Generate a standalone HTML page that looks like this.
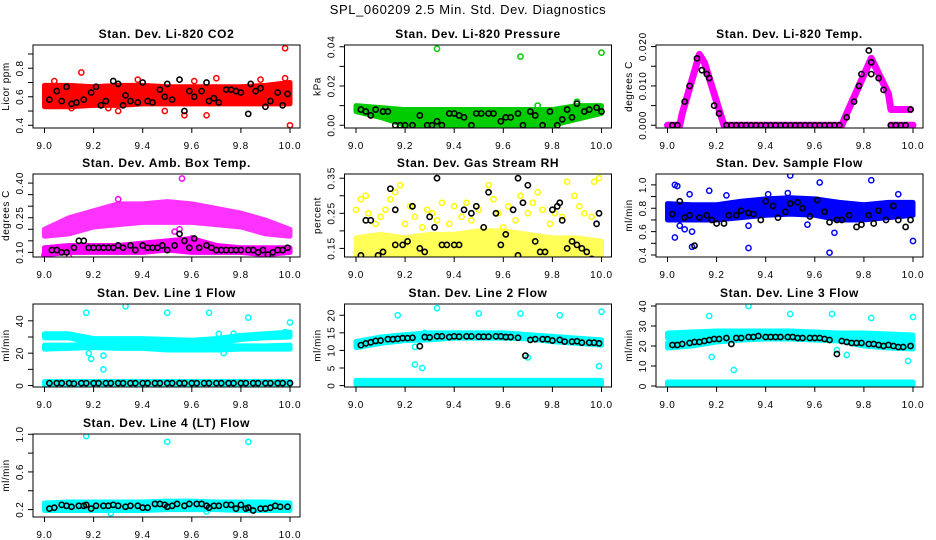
<!DOCTYPE html>
<html><head><meta charset="utf-8"><style>
html,body{margin:0;padding:0;background:#fff;}
svg{display:block;font-family:"Liberation Sans",Arial,sans-serif;}
</style></head><body>
<svg id="chart" width="936" height="540" viewBox="0 0 936 540" xmlns="http://www.w3.org/2000/svg">
<rect width="936" height="540" fill="#fff"/>
<text x="468" y="14" text-anchor="middle" font-size="13" letter-spacing="0.6">SPL_060209  2.5 Min. Std. Dev. Diagnostics</text>
</svg>
<script>
// ---- data ----
const xTicks=[9.0,9.2,9.4,9.6,9.8,10.0];
const xTickLabels=["9.0","9.2","9.4","9.6","9.8","10.0"];
const bandX=[9.0,9.1,9.2,9.3,9.4,9.5,9.6,9.7,9.8,9.9,10.0];

// Panel 1 CO2
const co2Lo=[0.53,0.53,0.54,0.54,0.55,0.55,0.55,0.55,0.55,0.55,0.55];
const co2Hi=[0.68,0.68,0.67,0.68,0.68,0.67,0.67,0.67,0.67,0.68,0.70];
const co2OutX=[9.04,9.15,9.38,9.30,9.57,9.66,9.70,9.98,9.98,10.0,9.11,9.49,9.88,9.61,9.03,9.26];
const co2OutY=[0.71,0.77,0.72,0.50,0.47,0.47,0.73,0.73,0.94,0.40,0.52,0.50,0.72,0.71,0.65,0.52];
const co2BlkX=[9.02,9.05,9.07,9.09,9.11,9.13,9.16,9.19,9.21,9.23,9.25,9.28,9.30,9.32,9.33,9.35,9.38,9.40,9.42,9.44,9.47,9.49,9.50,9.52,9.55,9.57,9.59,9.61,9.64,9.66,9.67,9.69,9.71,9.74,9.76,9.78,9.80,9.83,9.84,9.86,9.88,9.90,9.92,9.95,9.97,9.99];
const co2BlkY=[0.58,0.64,0.57,0.67,0.55,0.56,0.58,0.63,0.67,0.54,0.57,0.71,0.69,0.54,0.61,0.57,0.56,0.70,0.57,0.56,0.65,0.60,0.69,0.58,0.72,0.50,0.64,0.60,0.64,0.70,0.57,0.59,0.56,0.65,0.65,0.64,0.63,0.48,0.69,0.64,0.66,0.53,0.57,0.63,0.54,0.62];

// Panel 2 Pressure
const prLo=[0.007,0.004,0.0,0.0,0.0,0.0,0.0,0.0,0.0,0.003,0.006];
const prHi=[0.010,0.009,0.008,0.008,0.008,0.008,0.008,0.008,0.008,0.010,0.010];
const prOutX=[9.33,9.67,10.0,9.74,9.90];
const prOutY=[0.039,0.035,0.037,0.010,0.012];
const prBlkX=[9.02,9.04,9.06,9.08,9.11,9.13,9.16,9.18,9.20,9.23,9.26,9.29,9.31,9.33,9.35,9.38,9.40,9.42,9.44,9.47,9.49,9.51,9.54,9.56,9.59,9.61,9.63,9.66,9.68,9.71,9.73,9.76,9.79,9.82,9.84,9.86,9.88,9.90,9.93,9.95,9.98,10.0];
const prBlkY=[0.008,0.007,0.005,0.008,0.007,0.007,0.0,0.0,0.0,0.0,0.005,0.0,0.0,0.002,0.0,0.006,0.006,0.005,0.004,0.0,0.006,0.006,0.006,0.006,0.002,0.004,0.004,0.006,0.0,0.007,0.005,0.0,0.007,0.0,0.003,0.008,0.004,0.011,0.007,0.008,0.009,0.007];

// Panel 3 Li-820 Temp
const tmpTraceX=[9.0,9.05,9.06,9.13,9.15,9.22,9.23,9.71,9.73,9.83,9.90,9.91,9.99];
const tmpTraceY=[0.0,0.0,0.003,0.018,0.016,0.002,0.0,0.0,0.003,0.017,0.008,0.004,0.004];
const tmpTrace2X=[9.91,10.0];
const tmpTrace2Y=[0.0,0.0];
const tmpBlkX=[9.02,9.04,9.07,9.09,9.12,9.14,9.16,9.17,9.19,9.21,9.24,9.26,9.28,9.30,9.32,9.34,9.36,9.38,9.40,9.42,9.44,9.46,9.48,9.50,9.52,9.54,9.56,9.58,9.60,9.62,9.64,9.66,9.68,9.70,9.73,9.76,9.78,9.79,9.82,9.83,9.83,9.86,9.88,9.91,9.93,9.95,9.97,9.99];
const tmpBlkY=[0,0,0.006,0.010,0.017,0.014,0.013,0.012,0.005,0.003,0,0,0,0,0,0,0,0,0,0,0,0,0,0,0,0,0,0,0,0,0,0,0,0,0.002,0.006,0.010,0.013,0.019,0.016,0.013,0.012,0.009,0,0,0,0,0.004];

// Panel 4 Amb box temp
const ambLo1=[0.09,0.10,0.10,0.10,0.10,0.11,0.10,0.10,0.10,0.09,0.10];
const ambHi1=[0.12,0.13,0.13,0.13,0.14,0.15,0.16,0.13,0.12,0.12,0.12];
const ambLo2=[0.17,0.18,0.21,0.22,0.23,0.23,0.23,0.22,0.21,0.18,0.17];
const ambHi2=[0.20,0.25,0.28,0.31,0.31,0.32,0.31,0.29,0.27,0.24,0.20];
const ambOutX=[9.56,9.53,9.55,9.30,9.60,9.10,9.00,9.02];
const ambOutY=[0.42,0.19,0.20,0.33,0.16,0.08,0.09,0.08];
const ambBlkX=[9.03,9.05,9.07,9.09,9.12,9.14,9.16,9.18,9.20,9.22,9.24,9.26,9.28,9.30,9.32,9.35,9.37,9.40,9.42,9.44,9.46,9.48,9.50,9.53,9.55,9.57,9.59,9.61,9.63,9.66,9.68,9.70,9.72,9.74,9.76,9.78,9.80,9.83,9.85,9.87,9.89,9.91,9.93,9.95,9.97,9.99];
const ambBlkY=[0.11,0.11,0.10,0.10,0.12,0.15,0.15,0.12,0.12,0.12,0.12,0.12,0.12,0.13,0.12,0.13,0.11,0.13,0.12,0.12,0.12,0.13,0.11,0.13,0.18,0.15,0.12,0.16,0.12,0.13,0.12,0.11,0.11,0.11,0.11,0.11,0.11,0.11,0.11,0.10,0.11,0.09,0.10,0.11,0.11,0.12];

// Panel 5 Gas stream RH
const rhLo=[0.12,0.12,0.12,0.12,0.12,0.12,0.12,0.12,0.12,0.12,0.12];
const rhHi=[0.18,0.19,0.18,0.19,0.19,0.20,0.20,0.19,0.18,0.18,0.17];
const rhOutX=[9.00,9.02,9.04,9.05,9.08,9.10,9.12,9.14,9.16,9.18,9.20,9.22,9.24,9.27,9.29,9.31,9.33,9.35,9.38,9.40,9.43,9.45,9.47,9.50,9.52,9.54,9.56,9.58,9.60,9.62,9.65,9.67,9.70,9.72,9.74,9.76,9.79,9.81,9.84,9.86,9.89,9.91,9.93,9.96,9.97,9.99];
const rhOutY=[0.26,0.29,0.30,0.25,0.22,0.24,0.26,0.29,0.31,0.33,0.22,0.27,0.24,0.21,0.26,0.25,0.23,0.28,0.22,0.27,0.24,0.28,0.23,0.26,0.21,0.33,0.29,0.25,0.21,0.27,0.23,0.30,0.25,0.28,0.31,0.26,0.22,0.25,0.24,0.34,0.30,0.27,0.25,0.24,0.34,0.35];
const rhBlkX=[9.02,9.04,9.06,9.09,9.11,9.14,9.16,9.16,9.19,9.21,9.23,9.26,9.28,9.30,9.32,9.33,9.35,9.37,9.40,9.42,9.44,9.47,9.49,9.52,9.54,9.57,9.59,9.61,9.64,9.66,9.66,9.68,9.70,9.73,9.75,9.77,9.80,9.82,9.83,9.84,9.86,9.88,9.90,9.92,9.94,9.96,9.98,9.99];
const rhBlkY=[0.13,0.23,0.23,0.13,0.14,0.32,0.26,0.16,0.16,0.17,0.27,0.15,0.14,0.24,0.21,0.35,0.16,0.16,0.16,0.16,0.26,0.25,0.27,0.21,0.31,0.25,0.16,0.19,0.26,0.35,0.13,0.28,0.33,0.17,0.14,0.14,0.26,0.27,0.28,0.23,0.15,0.17,0.16,0.15,0.14,0.12,0.22,0.25];

// Panel 6 Sample flow
const sfLo=[0.70,0.70,0.70,0.72,0.74,0.75,0.74,0.70,0.70,0.72,0.74];
const sfHi=[0.84,0.83,0.83,0.86,0.88,0.89,0.88,0.85,0.83,0.85,0.85];
const sfOutX=[9.03,9.04,9.03,9.10,9.33,9.50,9.62,9.66,9.83,10.0,9.17,9.09,9.68,9.33,9.05,9.07,9.10,9.24,9.41,9.49,9.57,9.94];
const sfOutY=[1.00,0.99,0.55,0.47,0.46,1.08,1.02,0.42,1.04,0.52,0.95,0.92,0.59,0.65,0.65,0.62,0.60,0.91,0.92,0.93,0.66,0.92];
const sfBlkX=[9.02,9.05,9.07,9.09,9.11,9.13,9.16,9.18,9.20,9.23,9.25,9.28,9.30,9.33,9.35,9.38,9.40,9.43,9.45,9.48,9.50,9.53,9.55,9.58,9.61,9.64,9.66,9.69,9.71,9.74,9.77,9.79,9.82,9.84,9.86,9.89,9.92,9.94,9.97,9.99];
const sfBlkY=[0.75,0.86,0.72,0.74,0.48,0.72,0.74,0.70,0.67,0.67,0.74,0.74,0.78,0.76,0.75,0.70,0.86,0.82,0.72,0.77,0.84,0.85,0.80,0.73,0.87,0.77,0.68,0.70,0.70,0.74,0.64,0.66,0.74,0.67,0.78,0.70,0.82,0.70,0.64,0.70];

// Panel 7 Line 1 flow
const l1Lo1=[29.5,29.5,26,25,25,25,25,26,28.5,29.5,30];
const l1Hi1=[32,32,29,29,29,28.5,28,29,31,32,33];
const l1Lo2=[22.5,23,23.5,23,23,22,22,22,22.5,22.5,22.5];
const l1Hi2=[25,25,25.5,25,25,24.5,24.5,24.5,24.5,24.5,25];
const l1Lo3=[0.5,0.5,0.5,0.5,0.5,0.5,0.5,0.5,0.5,0.5,0.5];
const l1Hi3=[2.5,2.5,2.5,2.5,2.5,2.5,2.5,2.5,2.5,2.5,2.5];
const l1OutX=[9.17,9.33,9.50,9.67,9.83,10.0,9.18,9.19,9.24,9.24,9.73,9.71,9.98,9.77];
const l1OutY=[45,49,45,45,42,39,20,16.5,10,18.5,20,32,33,32];
const l1BlkX=[9.02,9.05,9.07,9.10,9.12,9.15,9.17,9.20,9.22,9.25,9.27,9.30,9.32,9.35,9.37,9.40,9.42,9.45,9.47,9.50,9.52,9.55,9.57,9.60,9.62,9.65,9.67,9.70,9.72,9.75,9.77,9.80,9.82,9.85,9.87,9.90,9.92,9.95,9.97,10.0];
const l1BlkY=[1.5,1.5,1.5,1.5,1.2,1.5,1.5,1.5,1.5,1.5,1.5,1.5,1.5,1.5,1.5,1.5,1.5,1.5,1.5,1.5,1.5,1.5,1.5,1.5,1.5,1.5,1.5,1.5,1.5,1.5,1.5,1.5,1.5,1.5,1.5,1.5,1.5,1.5,1.5,1.5];

// Panel 8 Line 2 flow
const l2Lo1=[10.8,12,12.8,13,13.5,13.5,13.5,13.3,12.5,12,11.5];
const l2Hi1=[12.5,13.8,14.5,15,15,15,15,14.5,14,13.5,13];
const l2Lo2=[0.3,0.3,0.3,0.3,0.3,0.3,0.3,0.3,0.3,0.3,0.3];
const l2Hi2=[1.5,1.5,1.5,1.5,1.5,1.5,1.5,1.5,1.5,1.5,1.5];
const l2OutX=[9.17,9.33,9.50,9.67,9.83,10.0,9.99,9.24,9.27,9.28,9.24,9.70];
const l2OutY=[20,22,20.5,20.5,20,21,5.5,6,5,15,11,8];
const l2BlkX=[9.02,9.04,9.06,9.08,9.10,9.13,9.15,9.17,9.19,9.21,9.23,9.26,9.28,9.30,9.33,9.35,9.38,9.40,9.42,9.45,9.47,9.50,9.52,9.54,9.57,9.59,9.61,9.63,9.66,9.69,9.71,9.73,9.76,9.78,9.80,9.83,9.85,9.88,9.90,9.92,9.95,9.97,9.99];
const l2BlkY=[11.5,12,12.3,12.7,12.8,13.2,13.2,13.3,13.5,13.5,13.6,11.2,13.8,13.7,14,14,13.8,14,13.9,14,14,13.9,13.9,13.9,14,14,13.8,13.8,13.6,8.5,13,13.2,13.2,13.2,12.8,13,12.5,12.5,12.6,12.2,12.2,12.2,12];

// Panel 9 Line 3 flow
const l3Lo1=[24,24.5,25,25,25,25,25,24.5,24,23.5,22.5];
const l3Hi1=[26.5,27,27.5,27.5,27.5,27.5,27,26.5,26.5,26,25.5];
const l3Lo2=[19,20,22,23,23.5,23.5,23,22.5,20,19,18.5];
const l3Hi2=[21.5,22.5,24,25,25.5,25.5,25,24.5,22.5,21.5,21];
const l3Lo3=[0.5,0.5,0.5,0.5,0.5,0.5,0.5,0.5,0.5,0.5,0.5];
const l3Hi3=[2,2,2,2,2,2,2,2,2,2,2];
const l3OutX=[9.17,9.33,9.50,9.67,9.83,10.0,9.18,9.27,9.73,9.98,9.69];
const l3OutY=[35,40,36,36,34,34.5,14.5,8,15.5,12.5,18];
const l3BlkX=[9.02,9.04,9.06,9.09,9.11,9.13,9.15,9.17,9.19,9.21,9.24,9.26,9.28,9.30,9.33,9.35,9.37,9.40,9.42,9.44,9.46,9.49,9.51,9.53,9.55,9.58,9.60,9.62,9.64,9.66,9.69,9.71,9.73,9.75,9.77,9.79,9.82,9.84,9.86,9.88,9.90,9.92,9.94,9.96,9.99];
const l3BlkY=[20.5,20.5,21,21.5,22,22,22.5,23,23.5,23.5,24,21,24,24,24.5,24.5,25,24.5,24.5,24.5,24.5,24.5,24.5,24,24,24,24,24,23.5,23,16,22.5,22,21.5,21.5,21.5,21,21,20.5,20,20.5,20,19.5,19.5,20];

// Panel 10 Line 4 flow
const l4Lo=[0.19,0.19,0.19,0.19,0.19,0.20,0.20,0.20,0.19,0.19,0.19];
const l4Hi=[0.27,0.28,0.28,0.28,0.28,0.29,0.29,0.28,0.28,0.28,0.27];
const l4OutX=[9.17,9.50,9.83,9.27,9.66];
const l4OutY=[0.98,0.92,0.92,0.16,0.18];
const l4BlkX=[9.02,9.04,9.07,9.09,9.11,9.14,9.16,9.17,9.19,9.21,9.24,9.26,9.28,9.30,9.33,9.35,9.38,9.40,9.42,9.45,9.47,9.49,9.50,9.52,9.54,9.57,9.59,9.62,9.64,9.66,9.67,9.69,9.71,9.74,9.76,9.78,9.80,9.82,9.83,9.85,9.88,9.90,9.92,9.94,9.96,9.99];
const l4BlkY=[0.21,0.22,0.25,0.24,0.23,0.24,0.24,0.25,0.21,0.24,0.24,0.24,0.25,0.24,0.23,0.24,0.24,0.22,0.22,0.26,0.26,0.25,0.23,0.24,0.26,0.24,0.26,0.26,0.26,0.24,0.22,0.24,0.24,0.25,0.25,0.21,0.25,0.21,0.22,0.19,0.21,0.21,0.22,0.24,0.23,0.23];

// ---- rendering ----
const NS="http://www.w3.org/2000/svg";
const svg=document.getElementById("chart");
const rowTop=[45,174,304,434];
function mk(tag,attrs,parent){const e=document.createElementNS(NS,tag);for(const k in attrs)e.setAttribute(k,attrs[k]);(parent||svg).appendChild(e);return e;}

function panel(p){
  const left=33+311.5*p.col, right=300+311.5*p.col, top=rowTop[p.row], bottom=top+83;
  const x0=left+11.5, x1=right-10;
  const sx=v=>x0+(v-9.0)/(1.0)*(x1-x0);
  const sy=v=>bottom-(v-p.ymin)/(p.ymax-p.ymin)*(bottom-top);
  const g=mk("g",{});
  
  
  const clip=mk("clipPath",{id:"c"+p.name},g);
  mk("rect",{x:left,y:top,width:right-left,height:bottom-top},clip);
  const plot=mk("g",{"clip-path":"url(#c"+p.name+")"},g);
  (p.bands||[]).forEach((b,i)=>{
    let pts=bandX.map((x,j)=>sx(x)+","+sy(b[1][j]));
    pts=pts.concat(bandX.slice().reverse().map((x,j)=>sx(x)+","+sy(b[0][bandX.length-1-j])));
    const op=(p.bandOpacity&&p.bandOpacity[i]!=null)?p.bandOpacity[i]:1;
    const poly=mk("polygon",{points:pts.join(" "),fill:p.color,stroke:p.color,"stroke-width":5,"stroke-linejoin":"round",opacity:op},plot);
    
    
  });
  (p.traces||[]).forEach((t,i)=>{
    const pl=mk("polyline",{points:t[0].map((x,j)=>sx(x)+","+sy(t[1][j])).join(" "),fill:"none",stroke:p.color,"stroke-width":7,"stroke-linejoin":"round","stroke-linecap":"round"},plot);
    
    
  });
  (p.outX||[]).forEach((x,j)=>{
    const c=mk("circle",{cx:sx(x),cy:sy(p.outY[j]),r:2.6,fill:"none",stroke:p.color,"stroke-width":1.5},plot);
    
    
  });
  (p.blkX||[]).forEach((x,j)=>{
    const c=mk("circle",{cx:sx(x),cy:sy(p.blkY[j]),r:2.6,fill:"none",stroke:"#000","stroke-width":1.6},plot);
    
    
  });
  const box=mk("rect",{x:left,y:top,width:right-left,height:bottom-top,fill:"none",stroke:"#000","stroke-width":1},g);
  
  
  const title=mk("text",{x:(left+right)/2,y:top-7,"text-anchor":"middle","font-size":12,"font-weight":"bold","letter-spacing":0.6},g);
  title.textContent=p.title;
  
  
  xTicks.forEach((v,j)=>{
    mk("line",{x1:sx(v),x2:sx(v),y1:bottom,y2:bottom+5,stroke:"#000"},g);
    const t=mk("text",{x:sx(v),y:bottom+21,"text-anchor":"middle","font-size":10,"letter-spacing":0.8},g);
    t.textContent=xTickLabels[j];
    
    
  });
  p.yTicks.forEach(v=>{ mk("line",{x1:left-5,x2:left,y1:sy(v),y2:sy(v),stroke:"#000"},g); });
  p.yLabels.forEach((lab,j)=>{
    const yy=sy(p.yLabelVals[j]);
    const t=mk("text",{x:left-10,y:yy,"text-anchor":"middle","font-size":10,"letter-spacing":0.8,transform:"rotate(-90 "+(left-10)+" "+yy+")"},g);
    t.textContent=lab;
    
    
  });
  const yl=mk("text",{x:left-24,y:(top+bottom)/2,"text-anchor":"middle","font-size":10,"letter-spacing":0.5,transform:"rotate(-90 "+(left-24)+" "+((top+bottom)/2)+")"},g);
  yl.textContent=p.ylab;
  
  
}

panel({name:"panel-co2",col:0,row:0,title:"Stan. Dev. Li-820 CO2",ylab:"Licor ppm",color:"#ff0000",ymin:0.381,ymax:0.963,
  yTicks:[0.4,0.5,0.6,0.7,0.8,0.9],yLabelVals:[0.4,0.6,0.8],yLabels:["0.4","0.6","0.8"],
  bands:[[co2Lo,co2Hi]],outX:co2OutX,outY:co2OutY,blkX:co2BlkX,blkY:co2BlkY});
panel({name:"panel-pressure",col:1,row:0,title:"Stan. Dev. Li-820 Pressure",ylab:"kPa",color:"#00cc00",ymin:-0.0014,ymax:0.0409,
  yTicks:[0,0.01,0.02,0.03,0.04],yLabelVals:[0,0.02,0.04],yLabels:["0.00","0.02","0.04"],
  bands:[[prLo,prHi]],outX:prOutX,outY:prOutY,blkX:prBlkX,blkY:prBlkY});
panel({name:"panel-li820-temp",col:2,row:0,title:"Stan. Dev. Li-820 Temp.",ylab:"degrees C",color:"#ff00ff",ymin:-0.0007,ymax:0.0204,
  yTicks:[0,0.005,0.01,0.015,0.02],yLabelVals:[0,0.01,0.02],yLabels:["0.000","0.010","0.020"],
  traces:[[tmpTraceX,tmpTraceY],[tmpTrace2X,tmpTrace2Y]],blkX:tmpBlkX,blkY:tmpBlkY});
panel({name:"panel-amb-box-temp",col:0,row:1,title:"Stan. Dev. Amb. Box Temp.",ylab:"degrees C",color:"#ff00ff",ymin:0.080,ymax:0.4394,
  yTicks:[0.10,0.15,0.20,0.25,0.30,0.35,0.40],yLabelVals:[0.10,0.25,0.40],yLabels:["0.10","0.25","0.40"],
  bands:[[ambLo1,ambHi1],[ambLo2,ambHi2]],bandOpacity:[1,0.8],outX:ambOutX,outY:ambOutY,blkX:ambBlkX,blkY:ambBlkY});
panel({name:"panel-gas-stream-rh",col:1,row:1,title:"Stan. Dev. Gas Stream RH",ylab:"percent",color:"#ffff00",ymin:0.1255,ymax:0.362,
  yTicks:[0.15,0.20,0.25,0.30,0.35],yLabelVals:[0.15,0.25,0.35],yLabels:["0.15","0.25","0.35"],
  bands:[[rhLo,rhHi]],bandOpacity:[0.65],outX:rhOutX,outY:rhOutY,blkX:rhBlkX,blkY:rhBlkY});
panel({name:"panel-sample-flow",col:2,row:1,title:"Stan. Dev. Sample Flow",ylab:"ml/min",color:"#0000ff",ymin:0.383,ymax:1.093,
  yTicks:[0.4,0.5,0.6,0.7,0.8,0.9,1.0],yLabelVals:[0.4,0.6,0.8,1.0],yLabels:["0.4","0.6","0.8","1.0"],
  bands:[[sfLo,sfHi]],outX:sfOutX,outY:sfOutY,blkX:sfBlkX,blkY:sfBlkY});
panel({name:"panel-line1-flow",col:0,row:2,title:"Stan. Dev. Line 1 Flow",ylab:"ml/min",color:"#00ffff",ymin:-0.9,ymax:50.4,
  yTicks:[0,10,20,30,40],yLabelVals:[0,20,40],yLabels:["0","20","40"],
  bands:[[l1Lo1,l1Hi1],[l1Lo2,l1Hi2],[l1Lo3,l1Hi3]],outX:l1OutX,outY:l1OutY,blkX:l1BlkX,blkY:l1BlkY});
panel({name:"panel-line2-flow",col:1,row:2,title:"Stan. Dev. Line 2 Flow",ylab:"ml/min",color:"#00ffff",ymin:-0.4,ymax:23.2,
  yTicks:[0,5,10,15,20],yLabelVals:[0,5,10,15,20],yLabels:["0","5","10","15","20"],
  bands:[[l2Lo1,l2Hi1],[l2Lo2,l2Hi2]],outX:l2OutX,outY:l2OutY,blkX:l2BlkX,blkY:l2BlkY});
panel({name:"panel-line3-flow",col:2,row:2,title:"Stan. Dev. Line 3 Flow",ylab:"ml/min",color:"#00ffff",ymin:-0.5,ymax:41.0,
  yTicks:[0,10,20,30,40],yLabelVals:[0,10,20,30,40],yLabels:["0","10","20","30","40"],
  bands:[[l3Lo1,l3Hi1],[l3Lo2,l3Hi2],[l3Lo3,l3Hi3]],outX:l3OutX,outY:l3OutY,blkX:l3BlkX,blkY:l3BlkY});
panel({name:"panel-line4-flow",col:0,row:3,title:"Stan. Dev. Line 4 (LT) Flow",ylab:"ml/min",color:"#00ffff",ymin:0.121,ymax:1.003,
  yTicks:[0.2,0.4,0.6,0.8,1.0],yLabelVals:[0.2,0.6,1.0],yLabels:["0.2","0.6","1.0"],
  bands:[[l4Lo,l4Hi]],outX:l4OutX,outY:l4OutY,blkX:l4BlkX,blkY:l4BlkY});
</script>
</body></html>
